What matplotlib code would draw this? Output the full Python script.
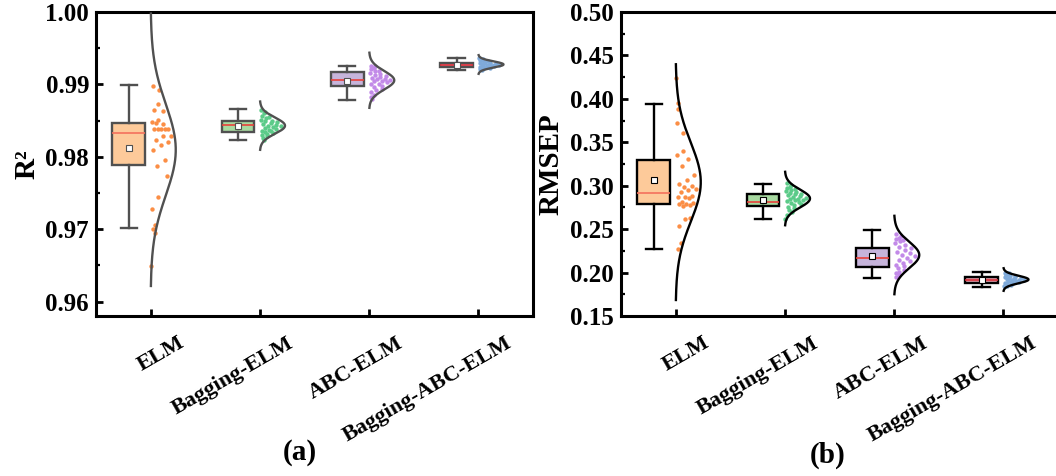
import numpy as np
import matplotlib
matplotlib.use("Agg")
import matplotlib.pyplot as plt
from matplotlib.ticker import MultipleLocator, FormatStrFormatter
from matplotlib.transforms import ScaledTranslation, blended_transform_factory

plt.rcParams['font.family'] = 'Liberation Serif'
plt.rcParams['font.weight'] = 'bold'

models = ['ELM', 'Bagging-ELM', 'ABC-ELM', 'Bagging-ABC-ELM']

# ---- R2 points ----
r2_elm = [0.9898, 0.9892, 0.9873, 0.9864, 0.9863, 0.9851, 0.9848, 0.9845, 0.9847,
          0.9839, 0.9839, 0.9839, 0.9839, 0.9839, 0.9828, 0.9828, 0.9823, 0.9821,
          0.9816, 0.9809, 0.9796, 0.9787, 0.9773, 0.9745, 0.9728, 0.9706, 0.9700,
          0.9695, 0.9649]
r2_bag = [0.9865, 0.9862, 0.9860, 0.9857, 0.9855, 0.9853, 0.9851, 0.9850, 0.9849,
          0.9848, 0.9846, 0.9845, 0.9844, 0.9843, 0.9842, 0.9841, 0.9840, 0.9838,
          0.9837, 0.9836, 0.9835, 0.9834, 0.9833, 0.9832, 0.9830, 0.9828, 0.9826,
          0.9823]
r2_abc = [0.9926, 0.9925, 0.9923, 0.9921, 0.9919, 0.9918, 0.9916, 0.9915, 0.9913,
          0.9912, 0.9910, 0.9909, 0.9908, 0.9907, 0.9906, 0.9905, 0.9904, 0.9903,
          0.9901, 0.9900, 0.9898, 0.9896, 0.9894, 0.9892, 0.9889, 0.9886, 0.9883,
          0.9880]
r2_bagabc = [0.9936, 0.9935, 0.9934, 0.9933, 0.9932, 0.9931, 0.9930, 0.9930, 0.9929,
             0.9929, 0.9928, 0.9928, 0.9927, 0.9927, 0.9927, 0.9926, 0.9926, 0.9925,
             0.9925, 0.9924, 0.9924, 0.9923, 0.9923, 0.9922, 0.9921, 0.9920]

# ---- RMSEP points ----
rm_elm = [0.4244, 0.3956, 0.3879, 0.3726, 0.3610, 0.3399, 0.3350, 0.3303, 0.3226,
          0.3119, 0.3065, 0.3015, 0.2996, 0.2988, 0.2957, 0.2949, 0.2926, 0.2880,
          0.2873, 0.2868, 0.2861, 0.2811, 0.2804, 0.2790, 0.2785, 0.2780, 0.2770,
          0.2631, 0.2620, 0.2535, 0.2335, 0.2266]
rm_bag = [0.3030, 0.3010, 0.2990, 0.2970, 0.2960, 0.2950, 0.2940, 0.2930, 0.2920,
          0.2910, 0.2900, 0.2890, 0.2880, 0.2870, 0.2860, 0.2850, 0.2845, 0.2840,
          0.2830, 0.2820, 0.2810, 0.2800, 0.2790, 0.2780, 0.2760, 0.2740, 0.2720,
          0.2700, 0.2660, 0.2620]
rm_abc = [0.2440, 0.2420, 0.2400, 0.2390, 0.2380, 0.2360, 0.2340, 0.2320, 0.2300,
          0.2280, 0.2260, 0.2240, 0.2220, 0.2200, 0.2190, 0.2170, 0.2150, 0.2130,
          0.2110, 0.2090, 0.2070, 0.2050, 0.2030, 0.2010, 0.1990, 0.1970, 0.1950]
rm_bagabc = [0.2000, 0.1990, 0.1980, 0.1970, 0.1960, 0.1955, 0.1950, 0.1945, 0.1940,
             0.1935, 0.1930, 0.1925, 0.1920, 0.1915, 0.1910, 0.1905, 0.1900, 0.1895,
             0.1890, 0.1885, 0.1880, 0.1870, 0.1860, 0.1850, 0.1840]

# box stats as drawn: whisker low, Q1, median, Q3, whisker high, mean
r2_box = [(0.9701, 0.9789, 0.9833, 0.9847, 0.9899, 0.9812),
          (0.9823, 0.9834, 0.9844, 0.9850, 0.9866, 0.9843),
          (0.9879, 0.9898, 0.9906, 0.9917, 0.9926, 0.9905),
          (0.9920, 0.9924, 0.9927, 0.9930, 0.9936, 0.9927)]
rm_box = [(0.2276, 0.2794, 0.2916, 0.3292, 0.3945, 0.3062),
          (0.2612, 0.2765, 0.2811, 0.2908, 0.3015, 0.2831),
          (0.1940, 0.2067, 0.2170, 0.2286, 0.2489, 0.2189),
          (0.1836, 0.1883, 0.1913, 0.1952, 0.2009, 0.1915)]

box_face = ['#FDCA9A', '#A7D9A0', '#C6B4DB', '#E3A3B0']
pt_color = ['#FB8E45', '#5CCB89', '#C28AE8', '#7FAADA']
med_color = ['#F4715C', '#E8403A', '#E8403A', '#D8303A']


def draw_panel(ax, groups, stats, line_col):
    for i, (vals, st) in enumerate(zip(groups, stats)):
        x = i + 1
        vals = np.asarray(vals)
        lo, q1, med, q3, hi, mean = st
        ax.bxp([dict(whislo=lo, q1=q1, med=med, q3=q3, whishi=hi, mean=mean, fliers=[])],
               positions=[x - 0.2], widths=0.3, patch_artist=True, showmeans=True,
               boxprops=dict(facecolor=box_face[i], edgecolor=line_col, linewidth=1.7),
               whiskerprops=dict(color=line_col, linewidth=1.7),
               capprops=dict(color=line_col, linewidth=1.7),
               medianprops=dict(color=med_color[i], linewidth=1.2),
               meanprops=dict(marker='s', markerfacecolor='white', markeredgecolor=line_col,
                              markersize=4, markeredgewidth=0.8),
               manage_ticks=False)
        # fitted normal curve on the right of the tick
        mu, sd = vals.mean(), vals.std(ddof=1)
        yy = np.linspace(mu - 3 * sd, mu + 3 * sd, 200)
        pdf = np.exp(-0.5 * ((yy - mu) / sd) ** 2)
        ax.plot(x + 0.23 * pdf, yy, color=line_col, lw=1.7, zorder=4)
        # data points spread inside the curve
        k = np.arange(len(vals))
        u = 0.06 + 0.85 * ((k * 0.618034 + 0.3) % 1)
        dens = np.exp(-0.5 * ((vals - mu) / sd) ** 2)
        ax.scatter(x + u * 0.22 * dens, vals, s=10, color=pt_color[i], zorder=3, linewidths=0)


def style_axes(ax, ylim, major, minor, ylabel, lab_x):
    ax.set_xlim(0.5, 4.5)
    ax.set_ylim(*ylim)
    ax.yaxis.set_major_locator(MultipleLocator(major))
    ax.yaxis.set_minor_locator(MultipleLocator(minor))
    ax.yaxis.set_major_formatter(FormatStrFormatter('%.2f'))
    ax.set_xticks([1, 2, 3, 4])
    ax.set_xticklabels([])
    # rotated category labels, right end a bit to the right of each tick
    trans = blended_transform_factory(ax.transData, ax.transAxes)
    off = ScaledTranslation(0.27, -0.17, fig.dpi_scale_trans)
    for xi, name in enumerate(models, start=1):
        ax.text(xi, 0, name, transform=trans + off, rotation=30, ha='right', va='top',
                rotation_mode='anchor', fontsize=16, fontweight='bold')
    for s in ax.spines.values():
        s.set_linewidth(2.2)
    ax.tick_params(axis='both', which='major', direction='in', length=5, width=2, labelsize=18)
    ax.tick_params(axis='y', which='minor', direction='in', length=3, width=1.6)
    ax.tick_params(axis='y', pad=5)
    ax.set_ylabel(ylabel, fontsize=21, fontweight='bold')
    ax.yaxis.set_label_coords(lab_x, 0.5)


fig = plt.figure(figsize=(10.56, 4.76), dpi=100)
ax1 = fig.add_axes([96 / 1056, 160 / 476, 437 / 1056, 304 / 476])
ax2 = fig.add_axes([621 / 1056, 160 / 476, 437 / 1056, 304 / 476])

draw_panel(ax1, [r2_elm, r2_bag, r2_abc, r2_bagabc], r2_box, '#505050')
draw_panel(ax2, [rm_elm, rm_bag, rm_abc, rm_bagabc], rm_box, 'black')

style_axes(ax1, (0.958, 1.0), 0.01, 0.005, 'R²', -0.128)
style_axes(ax2, (0.15, 0.50), 0.05, 0.025, 'RMSEP', -0.13)

fig.text(300 / 1056, 1 - 453 / 476, '(a)', ha='center', va='center', fontsize=21, fontweight='bold')
fig.text(828 / 1056, 1 - 455 / 476, '(b)', ha='center', va='center', fontsize=21, fontweight='bold')

fig.savefig('out.png', dpi=100)
